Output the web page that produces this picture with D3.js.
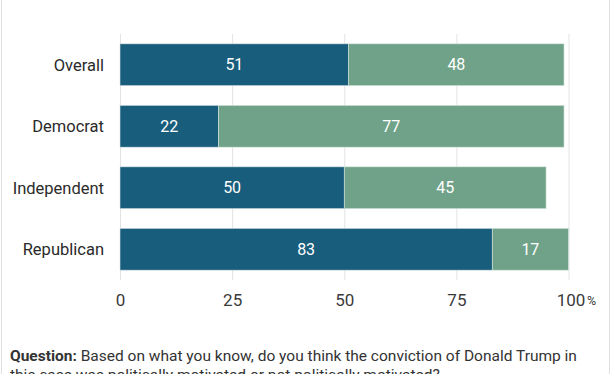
<!DOCTYPE html>
<html><head><meta charset="utf-8">
<script src="https://cdn.jsdelivr.net/npm/d3@7"></script>
<style>
html,body{margin:0;padding:0;background:#fff;}
svg{display:block;font-family:Roboto,sans-serif;}
</style></head>
<body>
<script>
const categories = ["Overall", "Democrat", "Independent", "Republican"];
const motivated = [51, 22, 50, 83];
const notMotivated = [48, 77, 45, 17];
const tickValues = [0, 25, 50, 75, 100];
const tickLabels = ["0", "25", "50", "75", "100"];

const W = 612, H = 374;
const svg = d3.select("body").append("svg").attr("width", W).attr("height", H);

// frame borders
svg.append("line").attr("x1",1.5).attr("x2",1.5).attr("y1",0).attr("y2",H).attr("stroke","#e0e0e0").attr("stroke-width",1);
svg.append("line").attr("x1",609.5).attr("x2",609.5).attr("y1",0).attr("y2",H).attr("stroke","#e0e0e0").attr("stroke-width",1);

const x = d3.scaleLinear().domain([0,100]).range([120,568.5]);
const y = d3.scaleBand().domain(categories).range([34,280]).paddingInner(0.32).paddingOuter(0.16);

// gridlines
svg.append("g").selectAll("line").data(tickValues).join("line")
  .attr("x1", d=>x(d)+0.5).attr("x2", d=>x(d)+0.5)
  .attr("y1", 34).attr("y2", 280)
  .attr("stroke", "#e3e3e3").attr("stroke-width", 1);

const rows = categories.map((c,i)=>({c, a: motivated[i], b: notMotivated[i]}));

const g = svg.append("g");
g.selectAll("rect.a").data(rows).join("rect").attr("class","a")
  .attr("x", x(0)).attr("y", d=>y(d.c))
  .attr("width", d=>x(d.a)-x(0)).attr("height", y.bandwidth())
  .attr("fill", "#195d7c").attr("stroke","#d8e3e8").attr("stroke-width",0.6);
g.selectAll("rect.b").data(rows).join("rect").attr("class","b")
  .attr("x", d=>x(d.a)).attr("y", d=>y(d.c))
  .attr("width", d=>x(d.a+d.b)-x(d.a)).attr("height", y.bandwidth())
  .attr("fill", "#6fa288").attr("stroke","#d8e6de").attr("stroke-width",0.6);

// value labels
g.selectAll("text.la").data(rows).join("text").attr("class","la")
  .attr("x", d=>(x(0)+x(d.a))/2).attr("y", d=>y(d.c)+y.bandwidth()/2)
  .attr("dy","0.35em").attr("text-anchor","middle")
  .attr("fill","#fff").attr("font-size",16).text(d=>d.a);
g.selectAll("text.lb").data(rows).join("text").attr("class","lb")
  .attr("x", d=>(x(d.a)+x(d.a+d.b))/2).attr("y", d=>y(d.c)+y.bandwidth()/2)
  .attr("dy","0.35em").attr("text-anchor","middle")
  .attr("fill","#fff").attr("font-size",16).text(d=>d.b);

// category labels
g.selectAll("text.cat").data(categories).join("text").attr("class","cat")
  .attr("x", 104).attr("y", d=>y(d)+y.bandwidth()/2)
  .attr("dy","0.35em").attr("text-anchor","end")
  .attr("fill","#2a2a2a").attr("font-size",16.5).text(d=>d);

// x axis
const xAxis = d3.axisBottom(x).tickValues(tickValues).tickSize(0).tickFormat((d,i)=>tickLabels[i]);
const ax = svg.append("g").attr("transform","translate(0,291)").call(xAxis);
ax.select(".domain").remove();
ax.selectAll("text").attr("font-size",17).attr("fill","#3a3a3a").attr("font-family","Roboto,sans-serif");
ax.selectAll(".tick").filter(d=>d===100).select("text").attr("dx", 2);
svg.append("text").attr("x", x(100)+18.5).attr("y", 305).attr("font-size",12.5).attr("fill","#3a3a3a").text("%");

// question
const q = svg.append("text").attr("x",10).attr("y",361).attr("font-size",15.5).attr("fill","#333");
q.append("tspan").attr("font-weight","bold").text("Question:");
q.append("tspan").text(" Based on what you know, do you think the conviction of Donald Trump in");
svg.append("text").attr("x",10).attr("y",380).attr("font-size",15.5).attr("fill","#333")
  .text("this case was politically motivated or not politically motivated?");
</script>
</body></html>
